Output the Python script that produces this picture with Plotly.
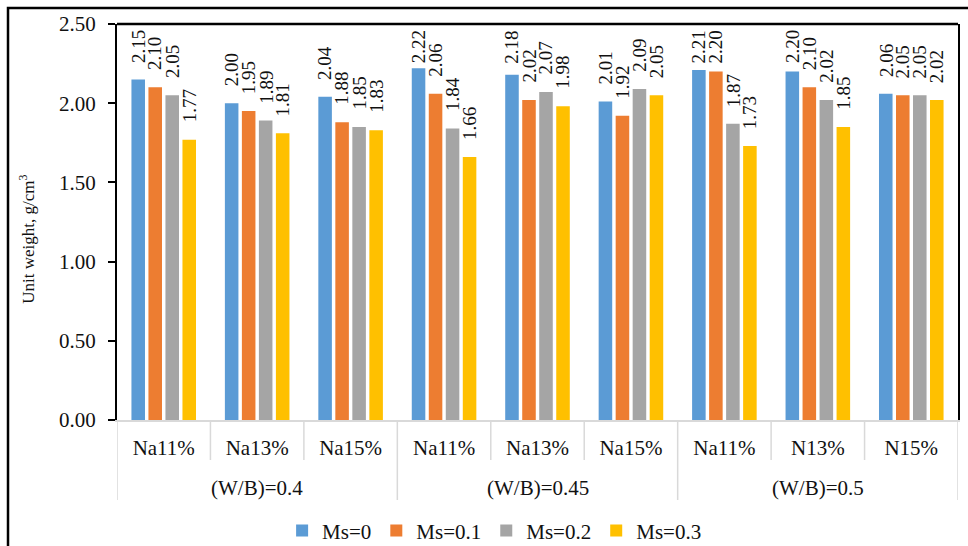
import plotly.graph_objects as go

# Mix groups (water/binder ratio) and Na2O dosage sub-categories
groups = ["(W/B)=0.4", "(W/B)=0.45", "(W/B)=0.5"]
subcats = ["Na11%", "Na13%", "Na15%",
           "Na11%", "Na13%", "Na15%",
           "Na11%", "N13%", "N15%"]
group_of = [0, 0, 0, 1, 1, 1, 2, 2, 2]

# Unit weight (g/cm3) for each microsilica ratio
ms_0 = [2.15, 2.00, 2.04, 2.22, 2.18, 2.01, 2.21, 2.20, 2.06]
ms_01 = [2.10, 1.95, 1.88, 2.06, 2.02, 1.92, 2.20, 2.10, 2.05]
ms_02 = [2.05, 1.89, 1.85, 1.84, 2.07, 2.09, 1.87, 2.02, 2.05]
ms_03 = [1.77, 1.81, 1.83, 1.66, 1.98, 2.05, 1.73, 1.85, 2.02]

series_names = ["Ms=0", "Ms=0.1", "Ms=0.2", "Ms=0.3"]
series_values = [ms_0, ms_01, ms_02, ms_03]
colors = ["#5B9BD5", "#ED7D31", "#A5A5A5", "#FFC000"]

FONT = "Liberation Serif, Times New Roman, serif"
TXT = "#111111"
BAR_W = 0.145
PITCH = 0.182
Y_MAX = 2.5

fig = go.Figure()
x_idx = list(range(len(subcats)))

annotations = []
for k, (name, vals, col) in enumerate(zip(series_names, series_values, colors)):
    off = -(3 * PITCH + BAR_W) / 2 + k * PITCH
    fig.add_trace(go.Bar(
        x=x_idx, y=vals, name=name,
        marker=dict(color=col, line=dict(width=0)),
        width=BAR_W, offset=off,
    ))
    # rotated value labels above each bar, kept inside the plot area
    for i, v in enumerate(vals):
        annotations.append(dict(
            x=i + off + BAR_W / 2, y=min(v + 0.095, 2.24),
            xref="x", yref="y", text=f"{v:.2f}", showarrow=False,
            textangle=-90, xanchor="center", yanchor="bottom",
            font=dict(family=FONT, size=19, color=TXT),
        ))

# group labels under the sub-category labels
for g, gname in enumerate(groups):
    members = [i for i, gi in enumerate(group_of) if gi == g]
    annotations.append(dict(
        x=sum(members) / len(members), y=-0.172, xref="x", yref="paper",
        text=gname, showarrow=False, xanchor="center", yanchor="middle",
        font=dict(family=FONT, size=21, color=TXT),
    ))

# y-axis title
annotations.append(dict(
    x=-0.107, y=0.455, xref="paper", yref="paper",
    text="Unit weight, g/cm<sup>3</sup>", showarrow=False, textangle=-90,
    xanchor="center", yanchor="middle",
    font=dict(family=FONT, size=17, color=TXT),
))

shapes = []
# category dividers below the axis: long at group edges, short inside groups
for b in range(len(subcats) + 1):
    xb = b - 0.5
    is_edge = b == 0 or b == len(subcats) or group_of[b] != group_of[b - 1]
    shapes.append(dict(
        type="line", xref="x", yref="paper", x0=xb, x1=xb,
        y0=0, y1=-0.202 if is_edge else -0.101,
        line=dict(color="#D9D9D9", width=1.5),
    ))
# black top border of the plot area
shapes.append(dict(type="line", xref="paper", yref="paper", x0=0, x1=1,
                   y0=1, y1=1, line=dict(color="black", width=2.5)))
# outer frame of the figure
shapes.append(dict(type="rect", xref="paper", yref="paper",
                   x0=-0.1296, x1=1.3, y0=-0.6, y1=1.0404,
                   line=dict(color="black", width=2.5)))

fig.update_layout(
    width=968, height=546,
    margin=dict(l=117, r=10, t=24, b=126, autoexpand=False),
    paper_bgcolor="white", plot_bgcolor="white",
    font=dict(family=FONT, size=21, color=TXT),
    barmode="group",
    showlegend=True,
    legend=dict(orientation="h", x=0.449, xanchor="center",
                y=-0.28, yanchor="middle",
                font=dict(family=FONT, size=21, color=TXT),
                itemclick=False),
    annotations=annotations,
    shapes=shapes,
)
fig.update_xaxes(
    range=[-0.5, len(subcats) - 0.5],
    tickmode="array", tickvals=x_idx, ticktext=subcats,
    showline=True, linecolor="#D9D9D9", linewidth=1.5,
    showgrid=False, zeroline=False, ticks="",
    ticklabelstandoff=8,
    tickfont=dict(family=FONT, size=21, color=TXT),
)
fig.update_yaxes(
    range=[0, Y_MAX], tickmode="linear", tick0=0, dtick=0.5,
    tickformat=".2f",
    showline=True, linecolor="black", linewidth=2, mirror=True,
    ticks="outside", ticklen=7, tickcolor="black", tickwidth=1.5,
    showgrid=False, zeroline=False,
    ticklabelstandoff=8,
    tickfont=dict(family=FONT, size=21, color=TXT),
)

fig.write_html("out.html")
